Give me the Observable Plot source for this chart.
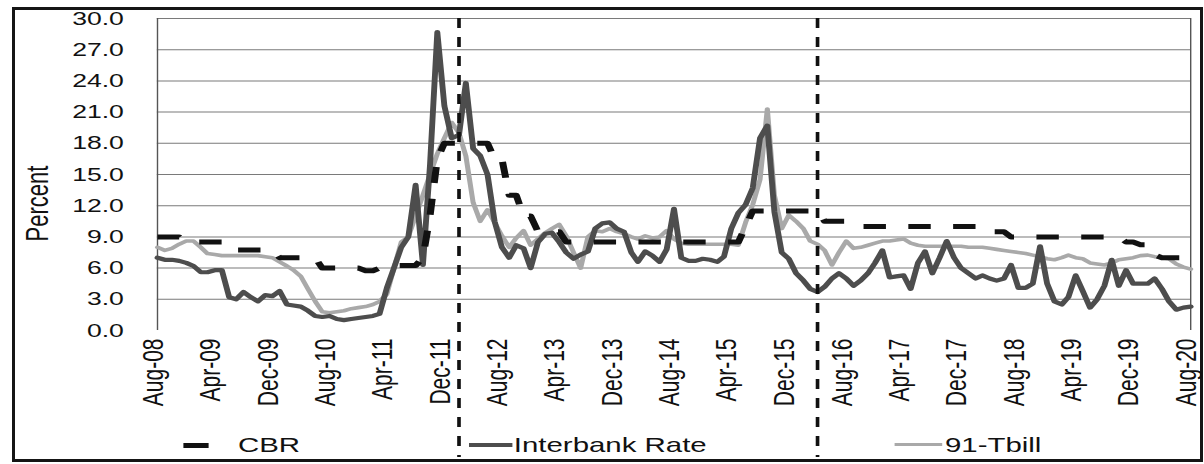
<!DOCTYPE html>
<html>
<head>
<meta charset="utf-8">
<script src="https://cdn.jsdelivr.net/npm/d3@7"></script>
<script src="https://cdn.jsdelivr.net/npm/@observablehq/plot@0.6"></script>
<style>
  html, body { margin: 0; padding: 0; background: #fff; }
  body { width: 1204px; height: 464px; position: relative; overflow: hidden; font-family: "Liberation Sans", Arial, sans-serif; }
  #frame { position: absolute; left: 12px; top: 7px; width: 1191px; height: 455px; box-sizing: border-box; border: 3px solid #151515; }
  #stage { position: absolute; left: 0; top: 0; width: 860px; height: 464px; transform: scaleX(1.4); transform-origin: 0 0; }
  #legend { position: absolute; left: 0; top: 432px; width: 860px; height: 26px; font-size: 21px; color: #111; }
  #legend .item { position: absolute; top: 0; line-height: 26px; white-space: nowrap; }
  #legend .sw { position: absolute; top: 11px; }
</style>
</head>
<body>
<div id="frame"></div>
<div id="stage"></div>
<script>
// Monthly observations, Aug-2008 .. Aug-2020
const startMonth = "2008-08-01";
const endMonth = "2020-08-01";

// Central Bank Rate (percent)
const cbr = [
  9.0, 9.0, 9.0, 9.0, 8.5,                                              // 2008 Aug-Dec
  8.5, 8.5, 8.5, 8.5, 8.5, 8.5, 7.75, 7.75, 7.75, 7.75, 7.75, 7.75,     // 2009
  7.0, 7.0, 7.0, 7.0, 7.0, 7.0, 6.0, 6.0, 6.0, 6.0, 6.0, 6.0,           // 2010
  5.75, 5.75, 6.0, 6.25, 6.25, 6.25, 6.25, 6.25, 7.0, 11.0, 16.5, 18.0, // 2011
  18.0, 18.0, 18.0, 18.0, 18.0, 18.0, 16.5, 16.5, 13.0, 13.0, 11.0, 11.0, // 2012
  9.5, 9.5, 9.5, 9.5, 8.5, 8.5, 8.5, 8.5, 8.5, 8.5, 8.5, 8.5,           // 2013
  8.5, 8.5, 8.5, 8.5, 8.5, 8.5, 8.5, 8.5, 8.5, 8.5, 8.5, 8.5,           // 2014
  8.5, 8.5, 8.5, 8.5, 8.5, 10.0, 11.5, 11.5, 11.5, 11.5, 11.5, 11.5,    // 2015
  11.5, 11.5, 11.5, 11.5, 10.5, 10.5, 10.5, 10.5, 10.0, 10.0, 10.0, 10.0, // 2016
  10.0, 10.0, 10.0, 10.0, 10.0, 10.0, 10.0, 10.0, 10.0, 10.0, 10.0, 10.0, // 2017
  10.0, 10.0, 9.5, 9.5, 9.5, 9.5, 9.0, 9.0, 9.0, 9.0, 9.0, 9.0,         // 2018
  9.0, 9.0, 9.0, 9.0, 9.0, 9.0, 9.0, 9.0, 9.0, 9.0, 8.5, 8.5,           // 2019
  8.25, 8.25, 7.25, 7.0, 7.0, 7.0, 7.0, 7.0                             // 2020 Jan-Aug
];

// Interbank rate (percent)
const interbank = [
  7.0, 6.8, 6.8, 6.7, 6.5,
  6.2, 5.6, 5.6, 5.8, 5.8, 3.2, 3.0, 3.7, 3.2, 2.8, 3.4, 3.3,
  3.8, 2.5, 2.4, 2.3, 1.9, 1.4, 1.3, 1.4, 1.1, 1.0, 1.1, 1.2,
  1.3, 1.4, 1.6, 4.1, 6.0, 8.0, 9.0, 14.0, 6.3, 15.9, 28.7, 21.6,
  18.5, 18.8, 23.8, 17.5, 16.8, 15.0, 10.5, 8.0, 7.0, 8.2, 7.9, 6.0,
  8.5, 9.3, 9.4, 8.5, 7.5, 6.9, 7.3, 7.6, 9.8, 10.3, 10.4, 9.8,
  9.5, 7.5, 6.6, 7.6, 7.2, 6.6, 7.8, 11.7, 7.0, 6.7, 6.7, 6.9,
  6.8, 6.6, 7.1, 9.8, 11.3, 12.1, 13.7, 18.5, 19.7, 11.4, 7.5, 6.9,
  5.5, 4.8, 4.0, 3.7, 4.2, 5.0, 5.5, 5.0, 4.3, 4.8, 5.5, 6.5,
  7.7, 5.1, 5.2, 5.3, 4.0, 6.5, 7.6, 5.5, 7.0, 8.6, 7.0, 6.0,
  5.5, 5.0, 5.3, 5.0, 4.8, 5.0, 6.3, 4.1, 4.1, 4.5, 8.1, 4.5,
  2.8, 2.5, 3.2, 5.3, 3.8, 2.2, 3.0, 4.3, 6.8, 4.3, 5.8, 4.5,
  4.5, 4.5, 5.0, 4.0, 2.8, 2.0, 2.2, 2.3
];

// 91-day Treasury bill rate (percent)
const tbill91 = [
  8.0, 7.7, 7.9, 8.3, 8.6,
  8.6, 8.0, 7.4, 7.3, 7.2, 7.2, 7.2, 7.2, 7.2, 7.2, 7.1, 7.0,
  6.6, 6.2, 5.8, 5.2, 4.0, 2.8, 1.8, 1.7, 1.8, 1.9, 2.1, 2.2,
  2.3, 2.5, 2.8, 3.5, 6.0, 8.5, 9.0, 11.0, 13.0, 15.0, 17.0, 18.5,
  20.0, 19.0, 16.8, 12.3, 10.5, 11.6, 10.4, 9.1, 8.0, 8.9, 9.6, 8.2,
  8.8, 9.4, 9.8, 10.2, 9.1, 7.5, 6.0, 9.0, 9.6, 9.5, 9.8, 9.5,
  9.3, 9.0, 8.8, 9.1, 8.9, 9.0, 9.6, 8.8, 8.4, 8.3, 8.3, 8.3,
  8.3, 8.3, 8.3, 8.3, 8.2, 10.4, 12.1, 14.5, 21.3, 13.0, 9.8, 11.1,
  10.5, 9.8, 8.6, 8.3, 7.7, 6.3, 7.5, 8.6, 7.9, 8.0, 8.2, 8.4,
  8.6, 8.6, 8.7, 8.8, 8.4, 8.2, 8.1, 8.1, 8.1, 8.1, 8.1, 8.1,
  8.0, 8.0, 8.0, 7.9, 7.8, 7.7, 7.6, 7.5, 7.4, 7.25, 7.1, 6.9,
  6.8, 7.0, 7.25, 7.0, 6.9, 6.5, 6.4, 6.3, 6.5, 6.8, 6.9, 7.0,
  7.2, 7.25, 7.1, 7.0, 6.9, 6.4, 6.1, 5.9
];

// Axis ticks and structural break markers
const yTicks = [0, 3, 6, 9, 12, 15, 18, 21, 24, 27, 30];
const xTickLabels = ["Aug-08","Apr-09","Dec-09","Aug-10","Apr-11","Dec-11","Aug-12","Apr-13","Dec-13","Aug-14","Apr-15","Dec-15","Aug-16","Apr-17","Dec-17","Aug-18","Apr-19","Dec-19","Aug-20"];
const breakMonths = ["2012-02-01", "2016-04-01"];
const seriesNames = ["CBR", "Interbank Rate", "91-Tbill"];

const parseLabel = d3.utcParse("%b-%y");
const fmt = d3.utcFormat("%b-%y");
const t0 = new Date(startMonth + "T00:00:00Z");
const t1 = new Date(endMonth + "T00:00:00Z");
const months = d3.utcMonth.range(t0, d3.utcMonth.offset(t1, 1));

const rows = (vals) => vals.map((v, i) => ({date: months[i], value: v}));
const xTicks = xTickLabels.map(parseLabel);
const breaks = breakMonths.map(s => new Date(s + "T00:00:00Z"));

const chart = Plot.plot({
  width: 860,
  height: 464,
  marginLeft: 112,
  marginRight: 10,
  marginTop: 18,
  marginBottom: 134,
  style: {fontFamily: "'Liberation Sans', Arial, sans-serif", background: "transparent", color: "#111", overflow: "visible"},
  x: {type: "utc", domain: [t0, t1]},
  y: {domain: [0, 30]},
  marks: [
    Plot.ruleY(yTicks.filter(d => d > 0), {stroke: "#7a7a7a", strokeWidth: 1}),
    Plot.ruleX([t0], {y1: 0, y2: 30, stroke: "#555", strokeWidth: 1}),
    Plot.ruleX([t1], {y1: 0, y2: 30, stroke: "#555", strokeWidth: 1}),
    Plot.axisY({ticks: yTicks, tickSize: 0, tickPadding: 24, tickFormat: d => d.toFixed(1), fontSize: 19,
      label: "Percent", labelAnchor: "center", labelArrow: "none", labelOffset: 94}),
    Plot.axisX({ticks: xTicks, tickSize: 0, tickPadding: 8, tickRotate: -90, tickFormat: fmt, fontSize: 21, label: null, dx: -3}),
    Plot.line(rows(tbill91), {x: "date", y: "value", stroke: "#a9a9a9", strokeWidth: 3.6, strokeLinejoin: "round"}),
    Plot.line(rows(interbank), {x: "date", y: "value", stroke: "#4d4d4d", strokeWidth: 4.2, strokeLinejoin: "round"}),
    Plot.line(rows(cbr), {x: "date", y: "value", stroke: "#111", strokeWidth: 5, strokeDasharray: "16,16", strokeLinecap: "butt"}),
    Plot.ruleX(breaks, {y1: 30, y2: -12.2, stroke: "#111", strokeWidth: 2.6, strokeDasharray: "10,9"})
  ]
});

const lab = chart.querySelector('[aria-label="y-axis label"]');
if (lab) {
  lab.querySelectorAll("text").forEach(t => t.style.fontSize = "22px");
  lab.setAttribute("transform", ((lab.getAttribute("transform") || "") + " translate(0,29)").trim());
}

const stage = document.getElementById("stage");
stage.appendChild(chart);

// Legend
const legend = document.createElement("div");
legend.id = "legend";
const legendSpec = [
  {name: seriesNames[0], swLeft: 131, swWidth: 18, swH: 5, color: "#111", textLeft: 170},
  {name: seriesNames[1], swLeft: 335, swWidth: 31, swH: 4, color: "#4d4d4d", textLeft: 367},
  {name: seriesNames[2], swLeft: 639, swWidth: 34, swH: 3, color: "#a9a9a9", textLeft: 675}
];
for (const s of legendSpec) {
  const sw = document.createElement("div");
  sw.className = "sw";
  sw.style.left = s.swLeft + "px";
  sw.style.width = s.swWidth + "px";
  sw.style.height = s.swH + "px";
  sw.style.background = s.color;
  legend.appendChild(sw);
  const tx = document.createElement("div");
  tx.className = "item";
  tx.style.left = s.textLeft + "px";
  tx.textContent = s.name;
  legend.appendChild(tx);
}
stage.appendChild(legend);
</script>
</body>
</html>
